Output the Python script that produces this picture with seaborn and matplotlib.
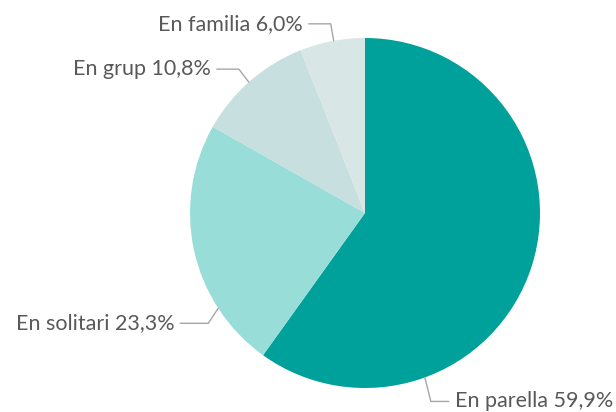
import numpy as np
import matplotlib
matplotlib.use("Agg")
from matplotlib import pyplot as plt
import seaborn as sns

labels = ["En parella", "En solitari", "En grup", "En familia"]
values = [59.9, 23.3, 10.8, 6.0]
colors = ["#00a19a", "#99ddd8", "#c7dfdf", "#d9e6e6"]

sns.set_theme(style="white")
plt.rcParams['font.family'] = ['Lato', 'DejaVu Sans']

W, H = 616, 412
fig = plt.figure(figsize=(W / 100, H / 100), dpi=100)
ax = fig.add_axes([0, 0, 1, 1])

cx, cy, r = 365, H - 213, 175
ax.pie(values, colors=sns.color_palette(colors), startangle=90, counterclock=False,
       radius=r, center=(cx, cy), wedgeprops=dict(linewidth=0))

# leader lines: angle on the rim, elbow offset, end offset, text side
leaders = [
    (-70, (6, -24), (24, -24), "left"),
    (213, (-10, -15), (-38, -15), "right"),
    (131.6, (-10, 13), (-32, 13), "right"),
    (100.3, (-3, 17), (-25, 17), "right"),
]

for lab, val, (ang, elb, end, side) in zip(labels, values, leaders):
    a = np.deg2rad(ang)
    x0, y0 = cx + r * np.cos(a), cy + r * np.sin(a)
    xs = [x0, x0 + elb[0], x0 + end[0]]
    ys = [y0, y0 + elb[1], y0 + end[1]]
    ax.plot(xs, ys, color="#a6a6a6", lw=1)
    txt = f"{lab} {val:.1f}%".replace(".", ",")
    dx = 6 if side == "left" else -6
    ax.text(xs[-1] + dx, ys[-1], txt, ha=side, va="center",
            fontsize=15.5, color="#595959")

ax.set_xlim(0, W)
ax.set_ylim(0, H)
ax.set_aspect("equal")
ax.axis("off")
fig.savefig("out.png", dpi=100)
